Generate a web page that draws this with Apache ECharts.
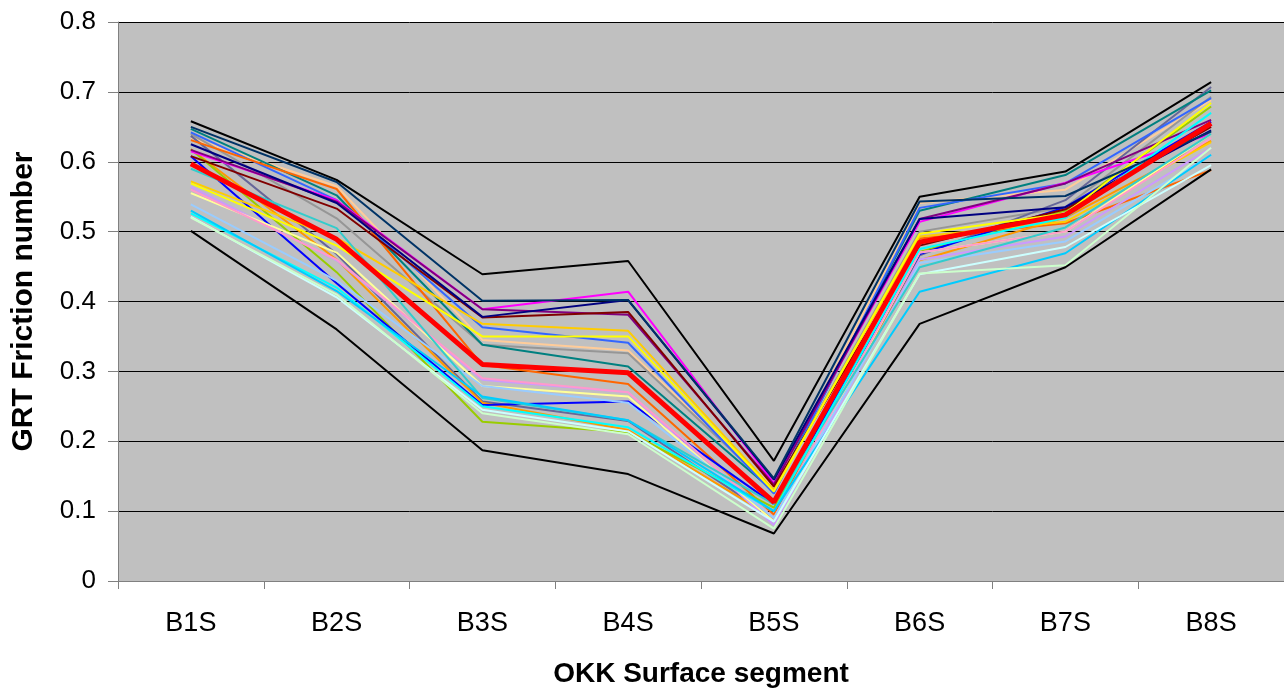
<!DOCTYPE html>
<html>
<head>
<meta charset="utf-8">
<script src="https://cdn.jsdelivr.net/npm/echarts@6/dist/echarts.min.js"></script>
<style>html,body{margin:0;padding:0;background:#fff}#c{width:1284px;height:689px}</style>
</head>
<body>
<div id="c"></div>
<script>
var categories = ['B1S','B2S','B3S','B4S','B5S','B6S','B7S','B8S'];
var yTicks = [0, 0.1, 0.2, 0.3, 0.4, 0.5, 0.6, 0.7, 0.8];

var sPeach      = [0.634,0.565,0.345,0.330,0.133,0.541,0.560,0.688];
var sGray       = [0.640,0.519,0.338,0.326,0.130,0.500,0.535,0.693];
var sSlate      = [0.637,0.468,0.257,0.229,0.090,0.466,0.545,0.707];
var sTeal       = [0.647,0.552,0.338,0.307,0.128,0.530,0.581,0.702];
var sRoyal      = [0.642,0.545,0.363,0.341,0.125,0.534,0.569,0.691];
var sDarkOrange = [0.631,0.561,0.309,0.282,0.095,0.490,0.512,0.588];
var sOrange     = [0.618,0.460,0.255,0.216,0.090,0.459,0.520,0.630];
var sYellowGrn  = [0.618,0.442,0.228,0.213,0.105,0.471,0.530,0.679];
var sMagenta    = [0.615,0.545,0.389,0.414,0.140,0.514,0.570,0.640];
var sPurple     = [0.617,0.543,0.389,0.381,0.138,0.518,0.569,0.660];
var sBlue       = [0.608,0.426,0.252,0.257,0.110,0.468,0.535,0.657];
var sMaroon     = [0.608,0.533,0.377,0.385,0.135,0.480,0.532,0.650];
var sNavy       = [0.625,0.541,0.378,0.402,0.145,0.518,0.535,0.645];
var sGold       = [0.572,0.491,0.368,0.358,0.130,0.493,0.514,0.628];
var sYellow     = [0.569,0.480,0.350,0.350,0.128,0.497,0.526,0.684];
var sLavender   = [0.564,0.459,0.288,0.270,0.080,0.460,0.493,0.620];
var sLightYel   = [0.555,0.470,0.279,0.264,0.085,0.470,0.500,0.640];
var sPink       = [0.560,0.460,0.290,0.270,0.090,0.470,0.500,0.634];
var sLightBlue  = [0.539,0.430,0.279,0.255,0.090,0.455,0.486,0.609];
var sTurquoise  = [0.590,0.505,0.262,0.230,0.110,0.449,0.506,0.640];
var sCyan       = [0.526,0.420,0.250,0.220,0.100,0.475,0.520,0.670];
var sSkyBlue    = [0.530,0.415,0.264,0.230,0.100,0.414,0.469,0.610];
var sLightCyan  = [0.521,0.406,0.245,0.214,0.085,0.439,0.478,0.595];
var sLightGreen = [0.520,0.410,0.240,0.210,0.075,0.440,0.452,0.620];
var sDarkSlate  = [0.650,0.571,0.401,0.402,0.147,0.543,0.551,0.643];
var sMax        = [0.658,0.574,0.439,0.458,0.172,0.550,0.586,0.714];
var sMin        = [0.501,0.360,0.187,0.153,0.068,0.368,0.449,0.589];
var sMean       = [0.597,0.489,0.310,0.298,0.113,0.485,0.524,0.655];

var lines = [
  ['Peach', sPeach, '#FFCC99', 2],
  ['Gray', sGray, '#969696', 2],
  ['Slate', sSlate, '#666699', 2],
  ['Teal', sTeal, '#008080', 2],
  ['Royal', sRoyal, '#3366FF', 2],
  ['DarkOrange', sDarkOrange, '#FF6600', 2],
  ['Orange', sOrange, '#FF9900', 2],
  ['YellowGreen', sYellowGrn, '#99CC00', 2],
  ['Magenta', sMagenta, '#FF00FF', 2],
  ['Purple', sPurple, '#800080', 2],
  ['Blue', sBlue, '#0000FF', 2],
  ['Maroon', sMaroon, '#800000', 2],
  ['Navy', sNavy, '#000080', 2],
  ['Gold', sGold, '#FFCC00', 2],
  ['Yellow', sYellow, '#FFFF00', 2],
  ['Lavender', sLavender, '#CC99FF', 2],
  ['LightYellow', sLightYel, '#FFFF99', 2],
  ['Pink', sPink, '#FF99CC', 2],
  ['LightBlue', sLightBlue, '#99CCFF', 2],
  ['Turquoise', sTurquoise, '#33CCCC', 2],
  ['Cyan', sCyan, '#00FFFF', 2],
  ['SkyBlue', sSkyBlue, '#00CCFF', 2],
  ['LightCyan', sLightCyan, '#CCFFFF', 2],
  ['LightGreen', sLightGreen, '#CCFFCC', 2],
  ['DarkSlate', sDarkSlate, '#003366', 2],
  ['Max', sMax, '#000000', 2],
  ['Min', sMin, '#000000', 2],
  ['Mean', sMean, '#FF0000', 5]
];

var series = lines.map(function (l) {
  return {
    name: l[0], type: 'line', data: l[1], symbol: 'none', animation: false,
    lineStyle: { color: l[2], width: l[3] }, itemStyle: { color: l[2] },
    z: l[0] === 'Mean' ? 5 : 2
  };
});

var chart = echarts.init(document.getElementById('c'), null, { renderer: 'canvas' });
chart.setOption({
  backgroundColor: '#ffffff',
  animation: false,
  grid: { left: 118, right: 0, top: 22, bottom: 108, show: true, backgroundColor: '#C0C0C0', borderWidth: 0,
          containLabel: false, outerBoundsMode: 'none' },
  xAxis: {
    type: 'category', data: categories, boundaryGap: true,
    name: 'OKK Surface segment', nameLocation: 'middle', nameGap: 79,
    nameTextStyle: { fontFamily: 'Liberation Sans', fontSize: 28, fontWeight: 'bold', color: '#000', lineHeight: 28 },
    axisLine: { lineStyle: { color: '#808080', width: 1 } },
    axisTick: { show: true, length: 8, lineStyle: { color: '#808080' } },
    axisLabel: { fontFamily: 'Liberation Sans', fontSize: 27, color: '#000', margin: 29 }
  },
  yAxis: {
    type: 'value', min: 0, max: 0.8, interval: 0.1,
    name: 'GRT Friction number', nameLocation: 'middle', nameGap: 79,
    nameTextStyle: { fontFamily: 'Liberation Sans', fontSize: 30, fontWeight: 'bold', color: '#000' },
    axisLine: { show: true, lineStyle: { color: '#808080', width: 1 } },
    axisTick: { show: true, length: 10, lineStyle: { color: '#808080' } },
    axisLabel: { fontFamily: 'Liberation Sans', fontSize: 26, color: '#000', margin: 22,
      formatter: function (v) { var r = Math.round(v * 10) / 10; return yTicks.indexOf(r) >= 0 ? String(r) : ''; } },
    splitLine: { show: true, lineStyle: { color: '#000000', width: 1 } }
  },
  series: series
});
</script>
</body>
</html>
